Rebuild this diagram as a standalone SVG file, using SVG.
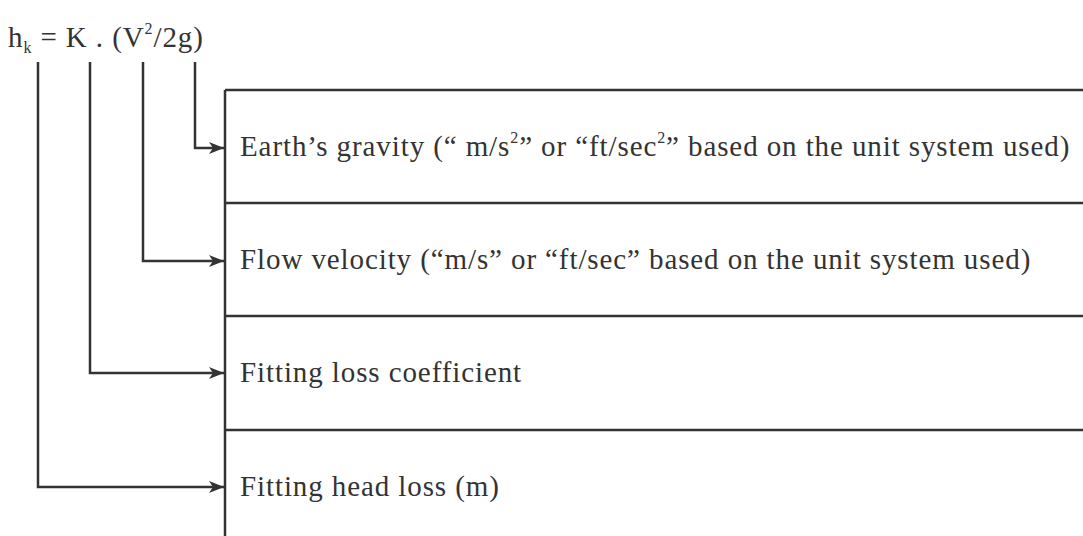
<svg xmlns="http://www.w3.org/2000/svg" width="1083" height="536" viewBox="0 0 1083 536">
<style>
.t{font-family:"Liberation Serif","Times New Roman",serif;fill:#333;font-size:29px;letter-spacing:0.9px}
.sup{font-size:16px}
.ln{stroke:#333;stroke-width:2.5;fill:none}
</style>
<defs>
<marker id="ah" markerWidth="15" markerHeight="12" refX="15" refY="6" orient="auto" markerUnits="userSpaceOnUse">
<path d="M0,0 L15,6 L0,12 L4,6 Z" fill="#333"/>
</marker>
</defs>
<rect width="1083" height="536" fill="#fff"/>
<g id="formula">
<text class="t" x="8" y="47">h<tspan class="sup" dy="6">k</tspan><tspan dy="-6"> = K . (V</tspan><tspan class="sup" dy="-13">2</tspan><tspan dy="13">/2g)</tspan></text>
</g>
<g id="table">
<path class="ln" d="M225,90 V536 M225,90 H1083 M225,203 H1083 M225,316 H1083 M225,430 H1083"/>
</g>
<g id="node-gravity">
<text class="t" x="240" y="156">Earth’s gravity (“ m/s<tspan class="sup" dy="-13">2</tspan><tspan dy="13">” or “ft/sec</tspan><tspan class="sup" dy="-13">2</tspan><tspan dy="13">” based on the unit system used)</tspan></text>
</g>
<g id="node-velocity">
<text class="t" x="240" y="269">Flow velocity (“m/s” or “ft/sec” based on the unit system used)</text>
</g>
<g id="node-coefficient">
<text class="t" x="240" y="382">Fitting loss coefficient</text>
</g>
<g id="node-headloss">
<text class="t" x="240" y="496">Fitting head loss (m)</text>
</g>
<g id="connectors">
<path class="ln" d="M195,62 V148 H224" marker-end="url(#ah)"/>
<path class="ln" d="M143,62 V261 H224" marker-end="url(#ah)"/>
<path class="ln" d="M90,62 V373 H224" marker-end="url(#ah)"/>
<path class="ln" d="M38,62 V487 H224" marker-end="url(#ah)"/>
</g>
</svg>
